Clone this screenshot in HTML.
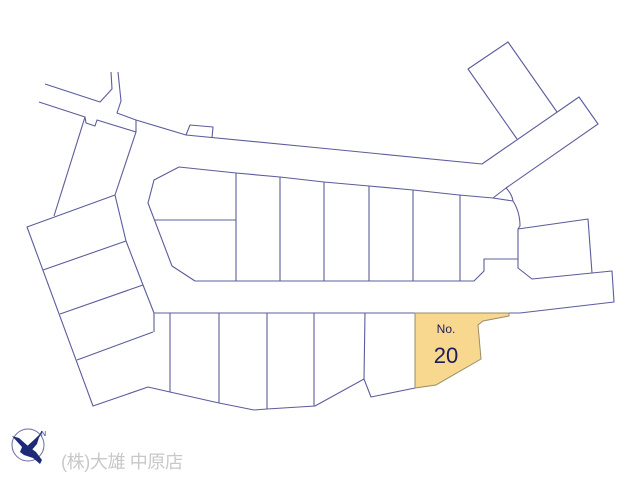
<!DOCTYPE html>
<html><head><meta charset="utf-8"><style>
html,body{margin:0;padding:0;background:#fff;width:640px;height:480px;overflow:hidden}
</style></head><body>
<svg width="640" height="480" viewBox="0 0 640 480" xmlns="http://www.w3.org/2000/svg">
<g fill="none" stroke="#5c5c9c" stroke-width="1.1" stroke-linejoin="round">
<polyline points="45,84 100,102 112,89 111,72"/>
<polyline points="118,72 121,101 117,113 136,120 186,135 320,148 482,164 579,97 598,124 506,188 493,198"/>
<polyline points="517,139 468,69 508,42 557,112"/>
<polyline points="186,135 190,125 213,127 212,138"/>
<polyline points="39,102 85,117 86,123 95,126 97,120 136,132 115,195"/>
<line x1="85" y1="117" x2="54" y2="216"/>
<line x1="136" y1="120" x2="136" y2="132"/>
<polyline points="115,195 27,227 93,406 148,387 170,392 219,403 254,410 267,409 315,406 364,379 371,397 415,388"/>
<line x1="43" y1="270" x2="126" y2="241"/>
<line x1="60" y1="314" x2="143" y2="285"/>
<line x1="77" y1="360" x2="153" y2="332"/>
<polyline points="115,195 126,241 143,285 154,313 154,332"/>
<polyline points="154,313 520,313 614,302 612,271 592,273"/>
<line x1="170" y1="313" x2="170" y2="392"/>
<line x1="219" y1="313" x2="219" y2="403"/>
<line x1="267" y1="313" x2="267" y2="409"/>
<line x1="314" y1="313" x2="314" y2="406"/>
<line x1="365" y1="313" x2="364" y2="379"/>
<polyline points="592,273 532,279 518,268 518,229 588,219 592,273"/>
<polyline points="179,167 236,173 280,177 324,182 369,186 413,190 459,195 493,198 513,201"/>
<path d="M506,188 Q512,194 513,201 Q520,212 520,226 L518,229"/>
<polyline points="518,259 484,259 484,271 474,281 195,281 172,266 148,203 154,180 179,167"/>
<line x1="155" y1="220" x2="236" y2="220"/>
<line x1="236" y1="173" x2="236" y2="281"/>
<line x1="280" y1="177" x2="280" y2="281"/>
<line x1="324" y1="182" x2="324" y2="281"/>
<line x1="369" y1="186" x2="369" y2="281"/>
<line x1="413" y1="190" x2="413" y2="281"/>
<line x1="460" y1="195" x2="460" y2="281"/>
</g>
<polygon points="415,313 509,313 509,316 483,321 478,325 481,359 436,385 415,388" fill="#f7d88e" stroke="#9a8c6a" stroke-width="1"/>
<text x="446" y="333" font-family="Liberation Sans, sans-serif" font-size="12" fill="#1c1c5c" text-anchor="middle">No.</text>
<text x="446" y="363" font-family="Liberation Sans, sans-serif" font-size="22" fill="#1c1c5c" text-anchor="middle">20</text>
<circle cx="28" cy="445" r="16" fill="none" stroke="#6a6aa8" stroke-width="1"/>
<path d="M12,436 L19,438 L28,446 L36,452 L42,460 L40,464 L33,458 L24,455 L20,452 L22,447 Z" fill="#1c2a78"/>
<path d="M24,449 L36,438 L40,434 L37,444 L30,452 Z" fill="#1c2a78"/>
<line x1="33" y1="448" x2="42" y2="431" stroke="#1c2a78" stroke-width="1"/>
<text x="41" y="436" font-family="Liberation Sans, sans-serif" font-size="7" fill="#1c2a78">N</text>
<text x="61" y="468" font-family="Liberation Sans, 'Noto Sans CJK JP', sans-serif" font-size="18" fill="#c8c8c8" textLength="122" lengthAdjust="spacing">(株)大雄 中原店</text>
</svg>
</body></html>
